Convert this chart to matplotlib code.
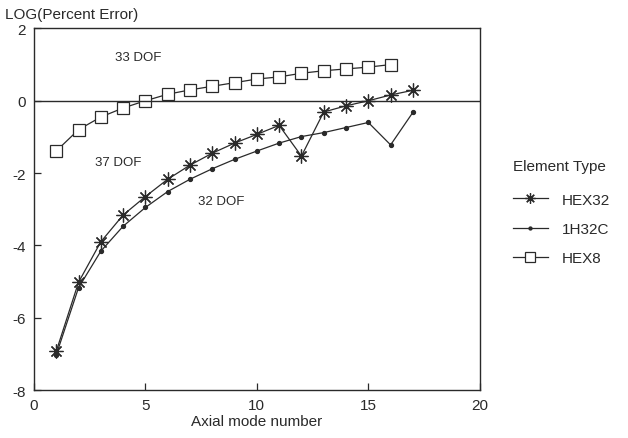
import numpy as np
import matplotlib.pyplot as plt

# mode numbers and log(percent error)
hex32_x = [1, 2, 3, 4, 5, 6, 7, 8, 9, 10, 11, 12, 13, 14, 15, 16, 17]
hex32_y = [-6.93, -5.02, -3.90, -3.16, -2.65, -2.17, -1.78, -1.45, -1.17,
           -0.93, -0.68, -1.53, -0.31, -0.14, 0.0, 0.16, 0.29]

h32c_x = [1, 2, 3, 4, 5, 6, 7, 8, 9, 10, 11, 12, 13, 14, 15, 16, 17]
h32c_y = [-7.03, -5.17, -4.16, -3.47, -2.95, -2.51, -2.17, -1.88, -1.62,
          -1.39, -1.17, -0.99, -0.88, -0.74, -0.60, -1.22, -0.32]

hex8_x = [1, 2, 3, 4, 5, 6, 7, 8, 9, 10, 11, 12, 13, 14, 15, 16]
hex8_y = [-1.39, -0.80, -0.45, -0.20, 0.0, 0.18, 0.30, 0.40, 0.50,
          0.60, 0.66, 0.76, 0.83, 0.88, 0.93, 1.0]

dof_labels = ["33 DOF", "37 DOF", "32 DOF"]
dof_pos = [(4.66, 1.2), (3.8, -1.7), (8.4, -2.78)]

ink = "#2a2a2a"
plt.rcParams['font.family'] = ['Liberation Sans', 'DejaVu Sans']
plt.rcParams['axes.unicode_minus'] = False

fig = plt.figure(figsize=(6.28, 4.39), dpi=100)
ax = fig.add_axes([0.054, 0.109, 0.71, 0.824])

ax.plot(hex32_x, hex32_y, color=ink, lw=0.9, marker=(8, 2, 0), ms=10,
        mew=0.9, label="HEX32")
ax.plot(h32c_x, h32c_y, color=ink, lw=0.9, marker='o', ms=2.8,
        label="1H32C")
ax.plot(hex8_x, hex8_y, color=ink, lw=0.9, marker='s', ms=9, mfc='white',
        mew=0.9, label="HEX8")

ax.axhline(0, color=ink, lw=1.0)

for txt, (x, y) in zip(dof_labels, dof_pos):
    ax.text(x, y, txt, fontsize=9.5, color=ink, ha='center', va='center')

ax.set_xlim(0, 20)
ax.set_ylim(-8, 2)
ax.set_xticks([0, 5, 10, 15, 20])
ax.set_yticks([-8, -6, -4, -2, 0, 2])
ax.tick_params(direction='in', length=5, width=0.9, colors=ink,
               labelsize=11, top=False, right=False, pad=6)
for s in ax.spines.values():
    s.set_color(ink)
    s.set_linewidth(1.0)

ax.set_xlabel("Axial mode number", fontsize=11, color=ink, labelpad=1)
fig.text(0.008, 0.965, "LOG(Percent Error)", fontsize=11, color=ink,
         ha='left', va='center')

leg = ax.legend(loc='upper left', bbox_to_anchor=(1.06, 0.655), frameon=False,
                title="Element Type", fontsize=11, title_fontsize=11,
                handlelength=2.3, handletextpad=0.9, labelspacing=1.0,
                markerscale=0.75, borderaxespad=0)
leg._legend_box.align = "left"
leg._legend_box.sep = 14
for t in leg.get_texts():
    t.set_color(ink)
leg.get_title().set_color(ink)

fig.savefig("out.png", dpi=100)
